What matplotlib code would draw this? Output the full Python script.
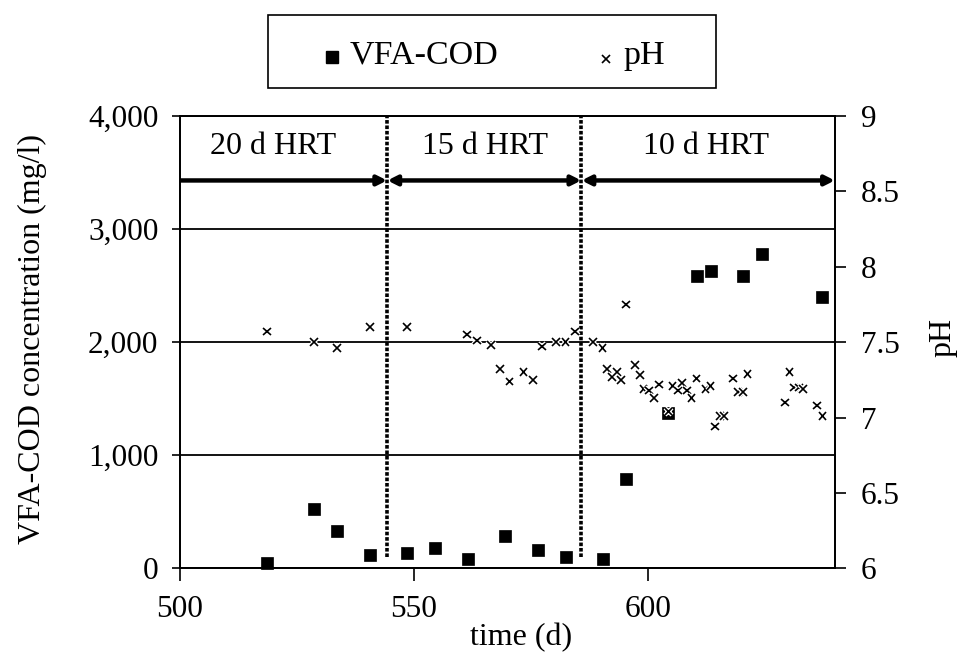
import matplotlib
matplotlib.use("Agg")
import matplotlib.pyplot as plt
import matplotlib.patheffects as pe
from matplotlib.patches import Rectangle
from matplotlib.lines import Line2D
from matplotlib.ticker import FuncFormatter, FixedLocator

plt.rcParams['font.family'] = ['Liberation Serif', 'DejaVu Serif']

# ---- data ----
vfa_day = [518.6, 528.6, 533.5, 540.6, 548.5, 554.5, 561.5, 569.4, 576.5, 582.4,
           590.4, 595.3, 604.4, 610.4, 613.4, 620.3, 624.3, 637.3]
vfa_cod = [49, 523, 332, 115, 138, 179, 79, 285, 161, 103,
           79, 794, 1373, 2583, 2633, 2583, 2780, 2397]

ph_day = [518.6, 528.6, 533.5, 540.6, 548.5, 561.4, 563.5, 566.5, 568.4, 570.4,
          573.4, 575.5, 577.4, 580.3, 582.4, 584.4, 588.3, 590.3, 591.3, 592.3,
          593.4, 594.3, 595.3, 597.3, 598.3, 599.1, 600.3, 601.3, 602.4, 604.4,
          605.3, 606.4, 607.3, 608.4, 609.3, 610.4, 612.3, 613.4, 614.3, 615.4,
          616.3, 618.2, 619.2, 620.3, 621.3, 629.3, 630.3, 631.2, 632.3, 633.2,
          636.2, 637.3]
ph = [7.57, 7.50, 7.46, 7.60, 7.60, 7.55, 7.51, 7.48, 7.32, 7.24,
      7.30, 7.25, 7.47, 7.50, 7.50, 7.57, 7.50, 7.46, 7.32, 7.27,
      7.30, 7.25, 7.75, 7.35, 7.28, 7.19, 7.18, 7.13, 7.22, 7.04,
      7.21, 7.18, 7.23, 7.18, 7.13, 7.26, 7.19, 7.21, 6.94, 7.01,
      7.01, 7.26, 7.17, 7.17, 7.29, 7.10, 7.30, 7.20, 7.20, 7.19,
      7.08, 7.01]

hrt_changes = [544.3, 585.8]
hrt_labels = ['20 d HRT', '15 d HRT', '10 d HRT']
hrt_label_x = [519.8, 565.2, 612.4]

x_ticks = [500, 550, 600]
vfa_ticks = [0, 1000, 2000, 3000, 4000]
ph_ticks = [6, 6.5, 7, 7.5, 8, 8.5, 9]

series_names = ['VFA-COD', 'pH']

# ---- figure ----
W, H = 962, 662
fig = plt.figure(figsize=(W/100, H/100), dpi=100)
ax = fig.add_axes([180/W, 1-568.3/H, 655/W, 452.3/H])
ax2 = ax.twinx()

TFS = 22.5   # tick labels
LFS = 23     # axis titles

ax.set_xlim(500, 640)
ax.set_ylim(0, 4000)
ax2.set_ylim(6, 9)

ax.xaxis.set_major_locator(FixedLocator(x_ticks))
ax.yaxis.set_major_locator(FixedLocator(vfa_ticks))
ax.yaxis.set_major_formatter(FuncFormatter(lambda v, p: f'{int(v):,}'))
ax2.yaxis.set_major_locator(FixedLocator(ph_ticks))
ax2.yaxis.set_major_formatter(FuncFormatter(lambda v, p: f'{v:g}'))

for a in (ax, ax2):
    for s in a.spines.values():
        s.set_linewidth(1.3)
ax.tick_params(axis='y', direction='out', length=6, width=1.2, labelsize=TFS, pad=9.5)
ax.tick_params(axis='x', direction='out', length=9, width=1.2, labelsize=TFS, pad=10.5)
ax2.tick_params(axis='y', direction='out', length=8, width=1.2, labelsize=TFS, pad=10.5)

ax.yaxis.grid(True, color='black', linewidth=1.3)
ax.set_axisbelow(True)

# HRT period markers
ax.vlines(hrt_changes, 100, 4000, colors='black', linewidth=2.6,
          linestyles=(0, (1, 0.5)), zorder=3)
bounds = [500] + hrt_changes + [640]
arrow_y = 3430
for i in range(3):
    style = '-|>' if i == 0 else '<|-|>'
    ax.annotate('', xy=(bounds[i+1], arrow_y), xytext=(bounds[i], arrow_y),
                arrowprops=dict(arrowstyle=style, lw=3.2, color='black',
                                mutation_scale=14, shrinkA=0, shrinkB=0,
                                capstyle='butt'),
                zorder=4)
    ax.text(hrt_label_x[i], 3727, hrt_labels[i], ha='center', va='center',
            fontsize=23)

# data
ax.plot(vfa_day, vfa_cod, linestyle='none', marker='s', markersize=8.6,
        color='black', markeredgewidth=0.5, zorder=5, clip_on=False)
ax2.plot(ph_day, ph, linestyle='none', marker='x', markersize=5.5,
         markeredgewidth=1.2, color='black', zorder=6,
         path_effects=[pe.withStroke(linewidth=3, foreground='white')])

ax.set_xlabel('time (d)', fontsize=LFS)
ax.xaxis.set_label_coords(0.52, -0.12)
ax.set_ylabel('VFA-COD concentration (mg/l)', fontsize=LFS)
ax.yaxis.set_label_coords(-0.203, 0.507)
ax2.set_ylabel('pH', fontsize=LFS)
ax2.yaxis.set_label_coords(1.143, 0.51)

# legend (framed box above the plot)
fig.patches.append(Rectangle((268/W, 1-88/H), 448/W, 73/H,
                             transform=fig.transFigure, fill=False,
                             linewidth=1.2, edgecolor='black'))
fig.add_artist(Line2D([332.5/W], [1-57/H], transform=fig.transFigure,
                      linestyle='none', marker='s', markersize=8, color='black'))
fig.add_artist(Line2D([606/W], [1-59/H], transform=fig.transFigure,
                      linestyle='none', marker='x', markersize=5.5,
                      markeredgewidth=1.2, color='black'))
fig.text(350/W, 1-64/H, series_names[0], fontsize=24.5, ha='left', va='baseline')
fig.text(623/W, 1-64/H, series_names[1], fontsize=24.5, ha='left', va='baseline')

fig.savefig('out.png', dpi=100)
